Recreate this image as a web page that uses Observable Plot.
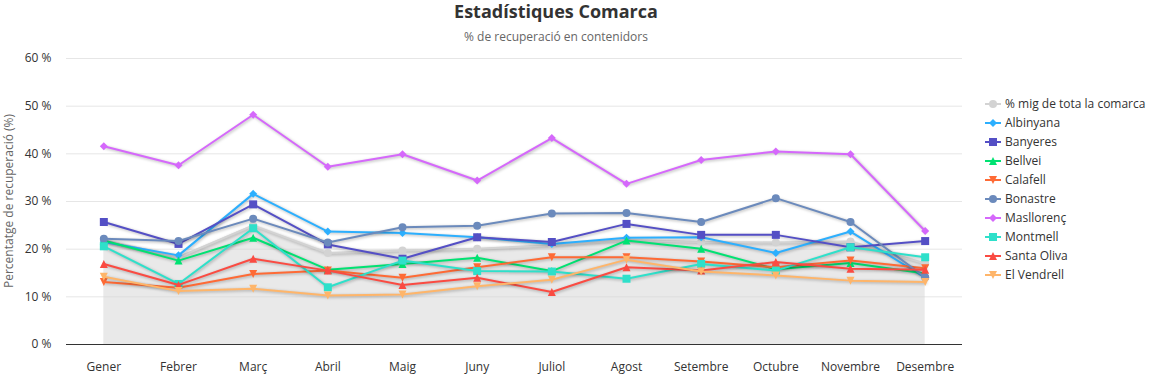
<!DOCTYPE html>
<html><head><meta charset="utf-8">
<script src="https://cdn.jsdelivr.net/npm/d3@7"></script>
<script src="https://cdn.jsdelivr.net/npm/@observablehq/plot@0.6"></script>
<style>
body{margin:0;background:#fff;font-family:"Open Sans",sans-serif}
#wrap{position:relative;width:1154px;height:379px;overflow:hidden}
#head{height:50px;position:relative}
#title{position:absolute;left:0;width:1112px;top:0px;line-height:22px;text-align:center;font-size:18px;font-weight:bold;color:#333}
#subtitle{position:absolute;left:0;width:1112px;top:28px;text-align:center;font-size:12px;color:#666}
#legend{position:absolute;left:985px;top:94px;font-size:12px;color:#333}
#ylabel{position:absolute;left:9px;top:201px;transform:translate(-50%,-50%) rotate(-90deg);white-space:nowrap;font-size:12px;color:#666;line-height:14px}
.item{height:19px;display:flex;align-items:center;white-space:nowrap}
.item svg{margin-right:4px}
</style></head>
<body>
<div id="wrap">
  <div id="head"><div id="title">Estadístiques Comarca</div><div id="subtitle">% de recuperació en contenidors</div></div>
  <div id="chart"></div>
  <div id="ylabel">Percentatge de recuperació (%)</div>
  <div id="legend"></div>
</div>
<script>
const months = ["Gener","Febrer","Març","Abril","Maig","Juny","Juliol","Agost","Setembre","Octubre","Novembre","Desembre"];
const yTicks = [0, 10, 20, 30, 40, 50, 60];
const seriesNames = ["% mig de tota la comarca","Albinyana","Banyeres","Bellvei","Calafell","Bonastre","Masllorenç","Montmell","Santa Oliva","El Vendrell"];
const mitjana    = [21.9, 18.3, 25.0, 19.2, 19.7, 20.1, 20.8, 21.9, 21.5, 21.4, 21.6, 17.0];
const albinyana  = [21.5, 18.7, 31.6, 23.7, 23.4, 22.5, 21.1, 22.4, 22.5, 19.2, 23.7, 14.0];
const banyeres   = [25.7, 21.1, 29.4, 21.0, 18.0, 22.5, 21.5, 25.3, 23.0, 23.0, 20.4, 21.7];
const bellvei    = [21.8, 17.6, 22.4, 15.7, 16.9, 18.2, 15.4, 21.8, 20.1, 15.8, 17.1, 14.9];
const calafell   = [13.1, 11.9, 14.8, 15.5, 14.0, 16.2, 18.3, 18.3, 17.4, 16.2, 17.6, 16.0];
const bonastre   = [22.2, 21.7, 26.4, 21.4, 24.6, 24.9, 27.5, 27.6, 25.7, 30.7, 25.7, 14.1];
const masllorenc = [41.6, 37.6, 48.2, 37.3, 39.9, 34.4, 43.3, 33.7, 38.7, 40.5, 39.9, 23.8];
const montmell   = [20.6, 12.7, 24.4, 12.0, 17.6, 15.4, 15.3, 13.8, 16.9, 15.5, 20.4, 18.3];
const santaOliva = [16.9, 12.5, 18.0, 15.5, 12.5, 14.0, 11.0, 16.2, 15.5, 17.3, 15.9, 15.7];
const elVendrell = [14.2, 11.2, 11.7, 10.3, 10.5, 12.2, 13.6, 17.8, 15.3, 14.5, 13.4, 13.1];
const seriesValues = [mitjana, albinyana, banyeres, bellvei, calafell, bonastre, masllorenc, montmell, santaOliva, elVendrell];
const colors = ["#d3d3d3","#2caffe","#544fc5","#00e272","#fe6a35","#6b8abc","#d568fb","#2ee0ca","#fa4b42","#feb56a"];

const R = s => Math.sqrt(s / Math.PI);
const shapes = {
  circle: {draw(c, s){const r=R(s); c.moveTo(r,0); c.arc(0,0,r,0,2*Math.PI);}},
  diamond: {draw(c, s){const r=R(s); c.moveTo(0,-r); c.lineTo(r,0); c.lineTo(0,r); c.lineTo(-r,0); c.closePath();}},
  square: {draw(c, s){const r=R(s); c.rect(-r,-r,2*r,2*r);}},
  triangle: {draw(c, s){const r=R(s); c.moveTo(0,-r); c.lineTo(r,r); c.lineTo(-r,r); c.closePath();}},
  triangleDown: {draw(c, s){const r=R(s); c.moveTo(0,r); c.lineTo(r,-r); c.lineTo(-r,-r); c.closePath();}}
};
const symOrder = ["circle","diamond","square","triangle","triangleDown"];

const series = seriesNames.map((name, i) => ({
  name, color: colors[i], symbol: shapes[symOrder[i % 5]],
  rows: seriesValues[i].map((v, j) => ({month: months[j], value: v}))
}));

const font = "'Open Sans', sans-serif";
const marks = [
  Plot.gridY(yTicks, {stroke: "#e6e6e6", strokeOpacity: 1}),
  Plot.areaY(series[0].rows, {x: "month", y: "value", fill: "#d3d3d3", fillOpacity: 0.5})
];
series.forEach(s => {
  marks.push(Plot.line(s.rows, {x: "month", y: "value", stroke: s.color, strokeWidth: 2}));
  marks.push(Plot.dot(s.rows, {x: "month", y: "value", fill: s.color, r: 4, symbol: s.symbol}));
});
marks.push(
  Plot.ruleY([0], {stroke: "#333", strokeWidth: 1}),
  Plot.axisY(yTicks, {tickSize: 0, tickPadding: 15, tickFormat: d => d + " %", fill: "#333", fontSize: 12, label: null}),
  Plot.axisX({tickSize: 0, tickPadding: 18, fill: "#333", fontSize: 12, label: null})
);

const chart = Plot.plot({
  width: 1154, height: 329,
  marginLeft: 66, marginRight: 192, marginTop: 8, marginBottom: 35,
  style: {fontFamily: font, fontSize: "12px", background: "transparent", overflow: "visible"},
  x: {type: "point", domain: months, padding: 0.5, round: false},
  y: {domain: [0, 60]},
  marks
});
chart.querySelectorAll('g[aria-label="line"]').forEach(g => g.style.filter = "drop-shadow(1px 1px 1.5px rgba(0,0,0,0.3))");
document.getElementById("chart").appendChild(chart);

const legend = d3.select("#legend");
series.forEach(s => {
  const it = legend.append("div").attr("class", "item");
  const sv = it.append("svg").attr("width", 16).attr("height", 12);
  sv.append("line").attr("x1", 0).attr("x2", 16).attr("y1", 6).attr("y2", 6).attr("stroke", s.color).attr("stroke-width", 2);
  sv.append("path").attr("transform", "translate(8,6)").attr("d", d3.symbol(s.symbol, 16 * Math.PI)()).attr("fill", s.color);
  it.append("span").text(s.name);
});
</script>
</body></html>
